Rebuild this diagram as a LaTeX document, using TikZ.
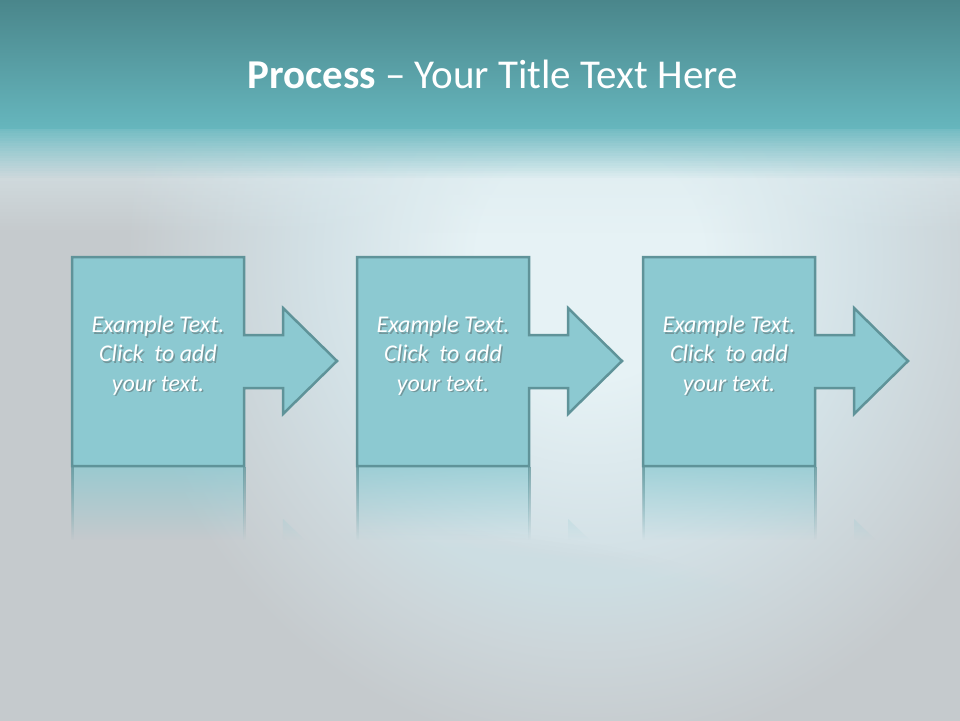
\documentclass[tikz,border=0pt]{standalone}
\usepackage{fontspec}
\setmainfont{Carlito}
\usetikzlibrary{fadings}
\definecolor{bandtop}{HTML}{4A868B}
\definecolor{bandbot}{HTML}{66B6BD}
\definecolor{bandfade}{HTML}{6FBAC1}
\definecolor{haze}{HTML}{DCEBEF}
\definecolor{bggrey}{HTML}{C5CACD}
\definecolor{glowc}{HTML}{E6F2F5}
\definecolor{glowmid}{HTML}{D3E1E6}
\definecolor{lowblue}{HTML}{CCDDE2}
\definecolor{boxfill}{HTML}{8CC9D1}
\definecolor{boxline}{HTML}{5F9399}
\pgfdeclareradialshading{glowshade}{\pgfpoint{0bp}{0bp}}{%
  color(0bp)=(glowc); color(3.5bp)=(glowc); color(8.5bp)=(glowmid);
  color(14.5bp)=(bggrey); color(50bp)=(bggrey)}
\tikzfading[name=reflfade, top color=transparent!25, bottom color=transparent!100]
\tikzset{
  stepbox/.style={fill=boxfill, draw=boxline, line width=2.5pt, line join=miter},
  reflbox/.style={fill=boxfill, path fading=reflfade},
  steptext/.style={text=white, font=\itshape\fontsize{24}{29.3}\selectfont, align=center},
  shadowtext/.style={text=black!70, opacity=0.4, font=\itshape\fontsize{24}{29.3}\selectfont, align=center},
}
\newcommand{\stepshape}[1]{%
  \path[stepbox] (#1,257) -- ++(172,0) -- ++(0,78) -- ++(39,0) -- ++(0,-27)
    -- ++(54,53) -- ++(-54,53) -- ++(0,-26) -- ++(-39,0) -- ++(0,78)
    -- ++(-172,0) -- cycle;}
\newcommand{\stepreflection}[1]{%
  \path[reflbox] (#1,467) rectangle ++(172,73)
    (#1+211,519) -- ++(22,21) -- ++(-22,0) -- cycle;}
\begin{document}
\begin{tikzpicture}[x=1pt,y=-1pt]
\useasboundingbox (0,0) rectangle (960,720);
% background with central glow
\begin{scope}
  \clip (0,0) rectangle (960,720);
  \shade[shading=glowshade] (-210,-590) rectangle (1390,1110);
\end{scope}
% bluish lower centre
\foreach \i in {0,...,39} {
  \fill[lowblue, opacity=0.02] (430,720) ellipse ({440-\i*10} and {190-\i*4.3});
}
% light haze under the band
\foreach \i in {0,...,29} {
  \fill[haze, opacity={0.85*(1-\i/30)}] (0,{128+\i*3.5}) rectangle (960,{131.6+\i*3.5});
}
% teal fade under the band
\foreach \i in {0,...,19} {
  \fill[bandfade, opacity={0.95*(1-\i/20)}] (0,{128+\i*2.5}) rectangle (960,{130.6+\i*2.5});
}
\shade[top color=bandtop, bottom color=bandbot] (0,0) rectangle (960,128);
% title
\node[text=white, font=\fontsize{41}{48}\selectfont, anchor=base] (title) at (492.5,88)
  {\textbf{Process} – Your Title Text Here};
% reflections
\foreach \x in {72,357,643} {
  \stepreflection{\x}
  \fill[boxline, path fading=reflfade] (\x-1,467) rectangle ++(2.5,73);
  \fill[boxline, path fading=reflfade] (\x+171,467) rectangle ++(2.5,73);
}
% shapes
\stepshape{72}
\stepshape{357}
\stepshape{643}
% texts
\foreach \x/\n in {158/t1,443/t2,729/t3} {
  \node[shadowtext] at (\x+1.5,357) {Example Text.\\Click\ \ to add\\your text.};
  \node[steptext] (\n) at (\x,355.5) {Example Text.\\Click\ \ to add\\your text.};
}
\end{tikzpicture}
\end{document}
